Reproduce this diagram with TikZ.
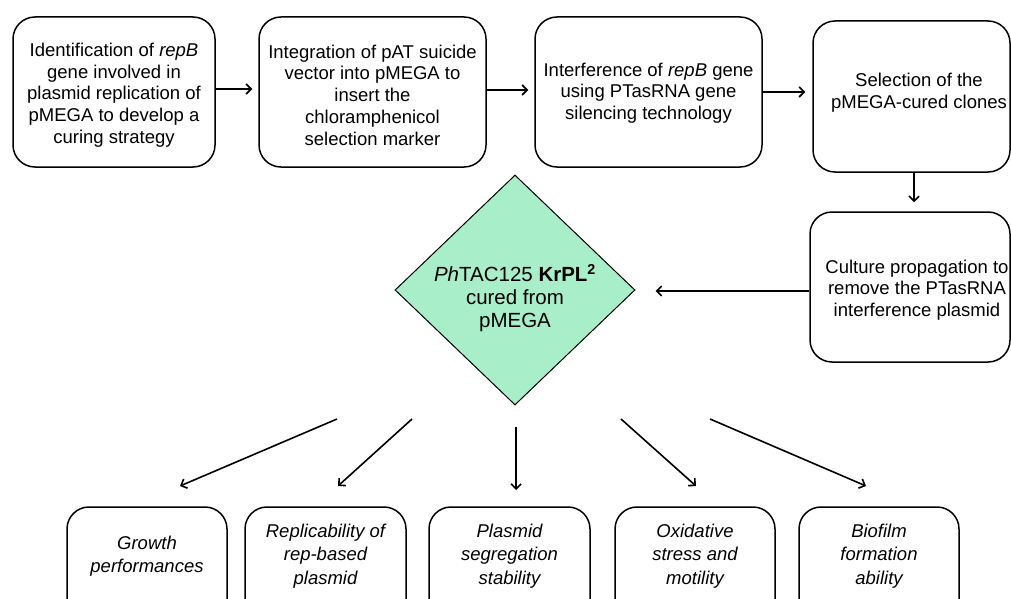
\documentclass[tikz,border=0pt]{standalone}
\usepackage{fontspec}
\setmainfont{Liberation Sans}
\usetikzlibrary{arrows.meta,shapes.geometric}
\definecolor{dgreen}{RGB}{168,238,200}
\begin{document}
\begin{tikzpicture}[x=1pt,y=-1pt,
  box/.style={draw, line width=1.5pt, rounded corners=22pt, inner sep=0pt},
  txt/.style={align=center, inner sep=0pt, font=\fontsize{18.5}{21.7}\selectfont},
  btxt/.style={align=center, inner sep=0pt, font=\fontsize{18.5}{23.5}\selectfont\itshape},
  arr/.style={line width=1.6pt, -{Straight Barb[length=5pt,width=10pt,line width=1.6pt]}}]
\useasboundingbox (0,0) rectangle (1011,599);
% top row
\node[box, minimum width=202pt, minimum height=150pt] (b1) at (114,92) {};
\node[txt] (t1) at (114,95) {Identification of \textit{repB}\\gene involved in\\plasmid replication of\\pMEGA to develop a\\curing strategy};
\node[box, minimum width=227pt, minimum height=150pt] (b2) at (372.5,92) {};
\node[txt] (t2) at (372.5,95) {Integration of pAT suicide\\vector into pMEGA to\\insert the\\chloramphenicol\\selection marker};
\node[box, minimum width=227pt, minimum height=150pt] (b3) at (648.5,92) {};
\node[txt] (t3) at (648.5,93) {Interference of \textit{repB} gene\\using PTasRNA gene\\silencing technology};
\node[box, minimum width=197pt, minimum height=151pt] (b4) at (911.5,96.5) {};
\node[txt] (t4) at (919,93) {Selection of the\\pMEGA-cured clones};
\node[box, minimum width=200pt, minimum height=150pt] (b5) at (910,287) {};
\node[txt] (t5) at (917,290) {Culture propagation to\\remove the PTasRNA\\interference plasmid};
% diamond
\node[diamond, draw, line width=1pt, fill=dgreen, inner sep=0pt, minimum width=240pt, minimum height=230pt] (d) at (515,290) {};
\node[align=center, inner sep=0pt, font=\fontsize{20.5}{23}\selectfont] (dt) at (515,298) {\textit{Ph}TAC125 \textbf{KrPL\textsuperscript{2}}\\cured from\\pMEGA};
% bottom row
\node[box, minimum width=160pt, minimum height=140pt] (c1) at (147,577) {};
\node[btxt] (u1) at (147,556) {Growth\\performances};
\node[box, minimum width=161pt, minimum height=140pt] (c2) at (325.5,577) {};
\node[btxt] (u2) at (325.5,556) {Replicability of\\rep-based\\plasmid};
\node[box, minimum width=161pt, minimum height=140pt] (c3) at (509.5,577) {};
\node[btxt] (u3) at (509.5,556) {Plasmid\\segregation\\stability};
\node[box, minimum width=160pt, minimum height=140pt] (c4) at (695,577) {};
\node[btxt] (u4) at (695,556) {Oxidative\\stress and\\motility};
\node[box, minimum width=160pt, minimum height=140pt] (c5) at (879,577) {};
\node[btxt] (u5) at (879,556) {Biofilm\\formation\\ability};
% connectors
\draw[arr, shorten >=6pt] ([yshift=3pt]b1.east) -- ([yshift=3pt]b1.east -| b2.west);
\draw[arr, shorten >=6pt] ([yshift=2pt]b2.east) -- ([yshift=2pt]b2.east -| b3.west);
\draw[arr, shorten >=7pt] (b3.east) -- (b3.east -| b4.west);
\draw[arr, shorten >=9pt] ([xshift=2.5pt]b4.south) -- ([xshift=2.5pt]b4.south |- b5.north);
\draw[arr, shorten >=20pt] ([yshift=-4pt]b5.west) -- ([yshift=-4pt]b5.west -| d.east);
\coordinate (s1) at (337,419); \coordinate (e1) at (180,486);
\coordinate (s2) at (412,419); \coordinate (e2) at (338,486);
\coordinate (s3) at (516,427); \coordinate (e3) at (516,490);
\coordinate (s4) at (621,419); \coordinate (e4) at (696,486);
\coordinate (s5) at (710,419); \coordinate (e5) at (866,486);
\foreach \i in {1,...,5} {\draw[arr] (s\i) -- (e\i);}
\end{tikzpicture}
\end{document}
